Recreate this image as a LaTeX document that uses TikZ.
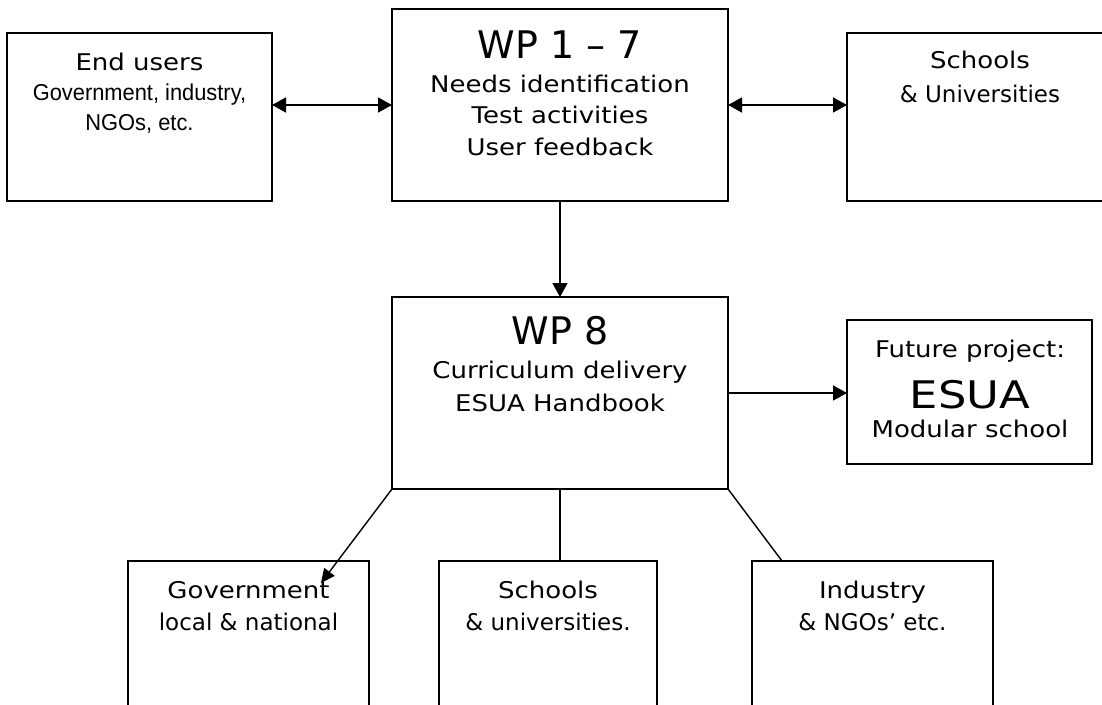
\documentclass[tikz,border=0pt]{standalone}
\usepackage{fontspec}
\usetikzlibrary{arrows.meta}
\newfontfamily\vfont[FakeStretch=1.13]{DejaVu Sans}
\newfontfamily\efont[FakeStretch=1.18]{DejaVu Sans}
\newfontfamily\tfont{DejaVu Sans}
\newfontfamily\nfont[FakeStretch=0.95]{Liberation Sans}
\tikzset{
  box/.style={draw, line width=1.7pt, inner sep=0pt, outer sep=0pt, anchor=north west},
  vt/.style={font=\vfont\fontsize{23}{27}\selectfont, anchor=base, inner sep=0pt},
  tt/.style={font=\tfont\fontsize{23}{27}\selectfont, anchor=base, inner sep=0pt},
  nt/.style={font=\nfont\fontsize{23}{27}\selectfont, anchor=base, inner sep=0pt},
  big/.style={font=\tfont\fontsize{38}{42}\selectfont, anchor=base, inner sep=0pt},
  bigv/.style={font=\efont\fontsize{38}{42}\selectfont, anchor=base, inner sep=0pt},
  arr/.style={line width=1.7pt, -{Triangle[length=14pt,width=15pt]}},
  darr/.style={line width=1.7pt, {Triangle[length=14pt,width=15pt]}-{Triangle[length=14pt,width=15pt]}},
  thin/.style={line width=1.4pt}
}
\begin{document}
\begin{tikzpicture}[x=1pt,y=-1pt]
\useasboundingbox (0,0) rectangle (1102,704);
\clip (0,0) rectangle (1102,704);
\fill[white] (0,0) rectangle (1102,704);
% boxes
\node[box, minimum width=265pt, minimum height=168pt] (eu) at (7,33) {};
\node[box, minimum width=336pt, minimum height=192pt] (wp17) at (392,9) {};
\node[box, minimum width=266pt, minimum height=168pt] (sch) at (847,33) {};
\node[box, minimum width=336pt, minimum height=192pt] (wp8) at (392,297) {};
\node[box, minimum width=245pt, minimum height=144pt] (esua) at (847,320) {};
\node[box, minimum width=241pt, minimum height=170pt] (gov) at (128,561) {};
\node[box, minimum width=218pt, minimum height=170pt] (su) at (439,561) {};
\node[box, minimum width=241pt, minimum height=170pt] (ind) at (752,561) {};
% texts
\node[vt] (eu1) at (139.5,70) {End users};
\node[nt] (eu2) at (139.5,100) {Government, industry,};
\node[nt] (eu3) at (139.5,130) {NGOs, etc.};
\node[big] (w1) at (560,58) {WP 1 – 7};
\node[vt] (w2) at (560,92) {Needs identification};
\node[vt] (w3) at (560,123) {Test activities};
\node[vt] (w4) at (560,155) {User feedback};
\node[vt] (s1) at (980,68) {Schools};
\node[tt] (s2) at (980,102) {\& Universities};
\node[big] (p1) at (560,344) {WP 8};
\node[vt] (p2) at (560,378) {Curriculum delivery};
\node[vt] (p3) at (560,411) {ESUA Handbook};
\node[vt] (f1) at (970,357) {Future project:};
\node[bigv] (f2) at (970,408) {ESUA};
\node[vt] (f3) at (970,437) {Modular school};
\node[vt] (g1) at (248.5,598) {Government};
\node[tt] (g2) at (248.5,630) {local \& national};
\node[vt] (u1) at (548,598) {Schools};
\node[tt] (u2) at (548,630) {\& universities.};
\node[vt] (i1) at (872.5,598) {Industry};
\node[tt] (i2) at (872.5,630) {\& NGOs’ etc.};
% connectors
\draw[darr] (eu.east |- 0,105) -- (wp17.west |- 0,105);
\draw[darr] (wp17.east |- 0,105) -- (sch.west |- 0,105);
\draw[arr] (wp17.south) -- (wp8.north);
\draw[arr] (wp8.east |- 0,393) -- (esua.west |- 0,393);
\coordinate (gend) at (321,583);
\draw[thin, -{Triangle[length=14pt,width=13pt]}] (wp8.south west) -- (gend);
\draw[thin] (wp8.south) -- (wp8.south |- su.north);
\draw[thin] (wp8.south east) -- (ind.north west -| 782,0);
\end{tikzpicture}
\end{document}
